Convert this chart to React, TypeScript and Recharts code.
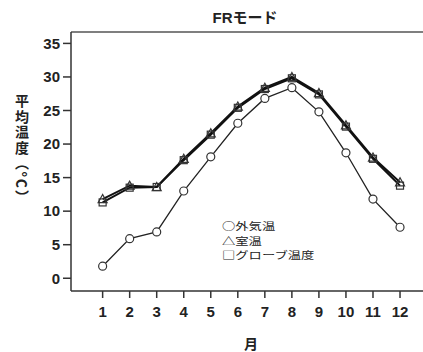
import React from 'react';
import { LineChart, Line, XAxis, YAxis, ReferenceLine } from 'recharts';

const months = [1, 2, 3, 4, 5, 6, 7, 8, 9, 10, 11, 12];
const outdoor = [1.8, 5.9, 6.9, 13.0, 18.1, 23.1, 26.8, 28.4, 24.8, 18.7, 11.8, 7.6];
const room = [11.8, 13.8, 13.6, 17.8, 21.6, 25.6, 28.4, 30.0, 27.6, 22.8, 18.0, 14.3];
const globe = [11.3, 13.5, 13.6, 17.6, 21.4, 25.4, 28.2, 29.8, 27.4, 22.6, 17.8, 13.8];
const yTicks = [0, 5, 10, 15, 20, 25, 30, 35];

const title = 'FRモード';
const yLabel = '平均温度（°C）';
const xLabel = '月';
const legendItems = ['○外気温', '△室温', '□グローブ温度'];

const data = months.map((m, i) => ({ m, outdoor: outdoor[i], room: room[i], globe: globe[i] }));

const tickStyle = { fontFamily: 'Liberation Sans, Arial, sans-serif', fontWeight: 700, fontSize: 15, fill: '#222' };

const CircleDot = (p: any) => (
  <circle key={`c${p.index}`} cx={p.cx} cy={p.cy} r={4} fill="#fff" stroke="#333" strokeWidth={1.2} />
);
const TriDot = (p: any) => {
  const { cx, cy } = p;
  const s = 4.5;
  return (
    <polygon
      key={`t${p.index}`}
      points={`${cx},${cy - s} ${cx - s},${cy + s * 0.8} ${cx + s},${cy + s * 0.8}`}
      fill="none"
      stroke="#333"
      strokeWidth={1.2}
    />
  );
};
const SqDot = (p: any) => (
  <rect key={`s${p.index}`} x={p.cx - 3.5} y={p.cy - 3.5} width={7} height={7} fill="none" stroke="#333" strokeWidth={1.2} />
);

export default function App() {
  return (
    <div style={{ position: 'absolute', left: 0, top: 0, width: 423, height: 352, background: '#fff' }}>
      <LineChart width={423} height={352} data={data} margin={{ top: 32, right: 0, bottom: 0, left: 0 }}>
        <XAxis
          dataKey="m"
          type="number"
          domain={[-0.17, 12.85]}
          ticks={months}
          allowDataOverflow
          height={61}
          tickSize={7}
          tickMargin={8}
          tick={tickStyle}
          axisLine={{ stroke: '#333', strokeWidth: 1.5 }}
          tickLine={{ stroke: '#333', strokeWidth: 1.5 }}
        />
        <YAxis
          type="number"
          domain={[-1.9, 36.7]}
          ticks={yTicks}
          allowDataOverflow
          width={71}
          tickSize={8}
          tickMargin={3}
          tick={tickStyle}
          axisLine={{ stroke: '#333', strokeWidth: 1.5 }}
          tickLine={{ stroke: '#333', strokeWidth: 1.5 }}
        />
        <ReferenceLine y={36.7} stroke="#555" strokeWidth={1.5} />
        <Line dataKey="outdoor" stroke="#222" strokeWidth={1.3} dot={CircleDot} isAnimationActive={false} />
        <Line dataKey="globe" stroke="#111" strokeWidth={2} dot={SqDot} isAnimationActive={false} />
        <Line dataKey="room" stroke="#111" strokeWidth={2} dot={TriDot} isAnimationActive={false} />
      </LineChart>
      <div
        style={{
          position: 'absolute', left: 165, top: 9, width: 160, textAlign: 'center',
          fontFamily: 'Liberation Sans, Noto Sans CJK JP, sans-serif', fontWeight: 700, fontSize: 15, lineHeight: '18px', color: '#222',
        }}
      >
        {title}
      </div>
      <div
        style={{
          position: 'absolute', left: 13, top: 94, writingMode: 'vertical-rl', textOrientation: 'mixed',
          fontFamily: 'Noto Sans CJK JP, sans-serif', fontWeight: 700, fontSize: 14, letterSpacing: 1.5, lineHeight: '18px', color: '#222',
        }}
      >
        {yLabel}
      </div>
      <div
        style={{
          position: 'absolute', left: 236, top: 334, width: 30, textAlign: 'center',
          fontFamily: 'Noto Sans CJK JP, sans-serif', fontWeight: 700, fontSize: 14, lineHeight: '18px', color: '#222',
        }}
      >
        {xLabel}
      </div>
      <div
        style={{
          position: 'absolute', left: 222, top: 219, fontFamily: 'Noto Sans CJK JP, sans-serif',
          fontSize: 10, lineHeight: '14.5px', color: '#222', whiteSpace: 'pre',
          transform: 'scaleX(1.33)', transformOrigin: 'left top',
        }}
      >
        {legendItems.map((t) => (
          <div key={t}>{t}</div>
        ))}
      </div>
    </div>
  );
}
